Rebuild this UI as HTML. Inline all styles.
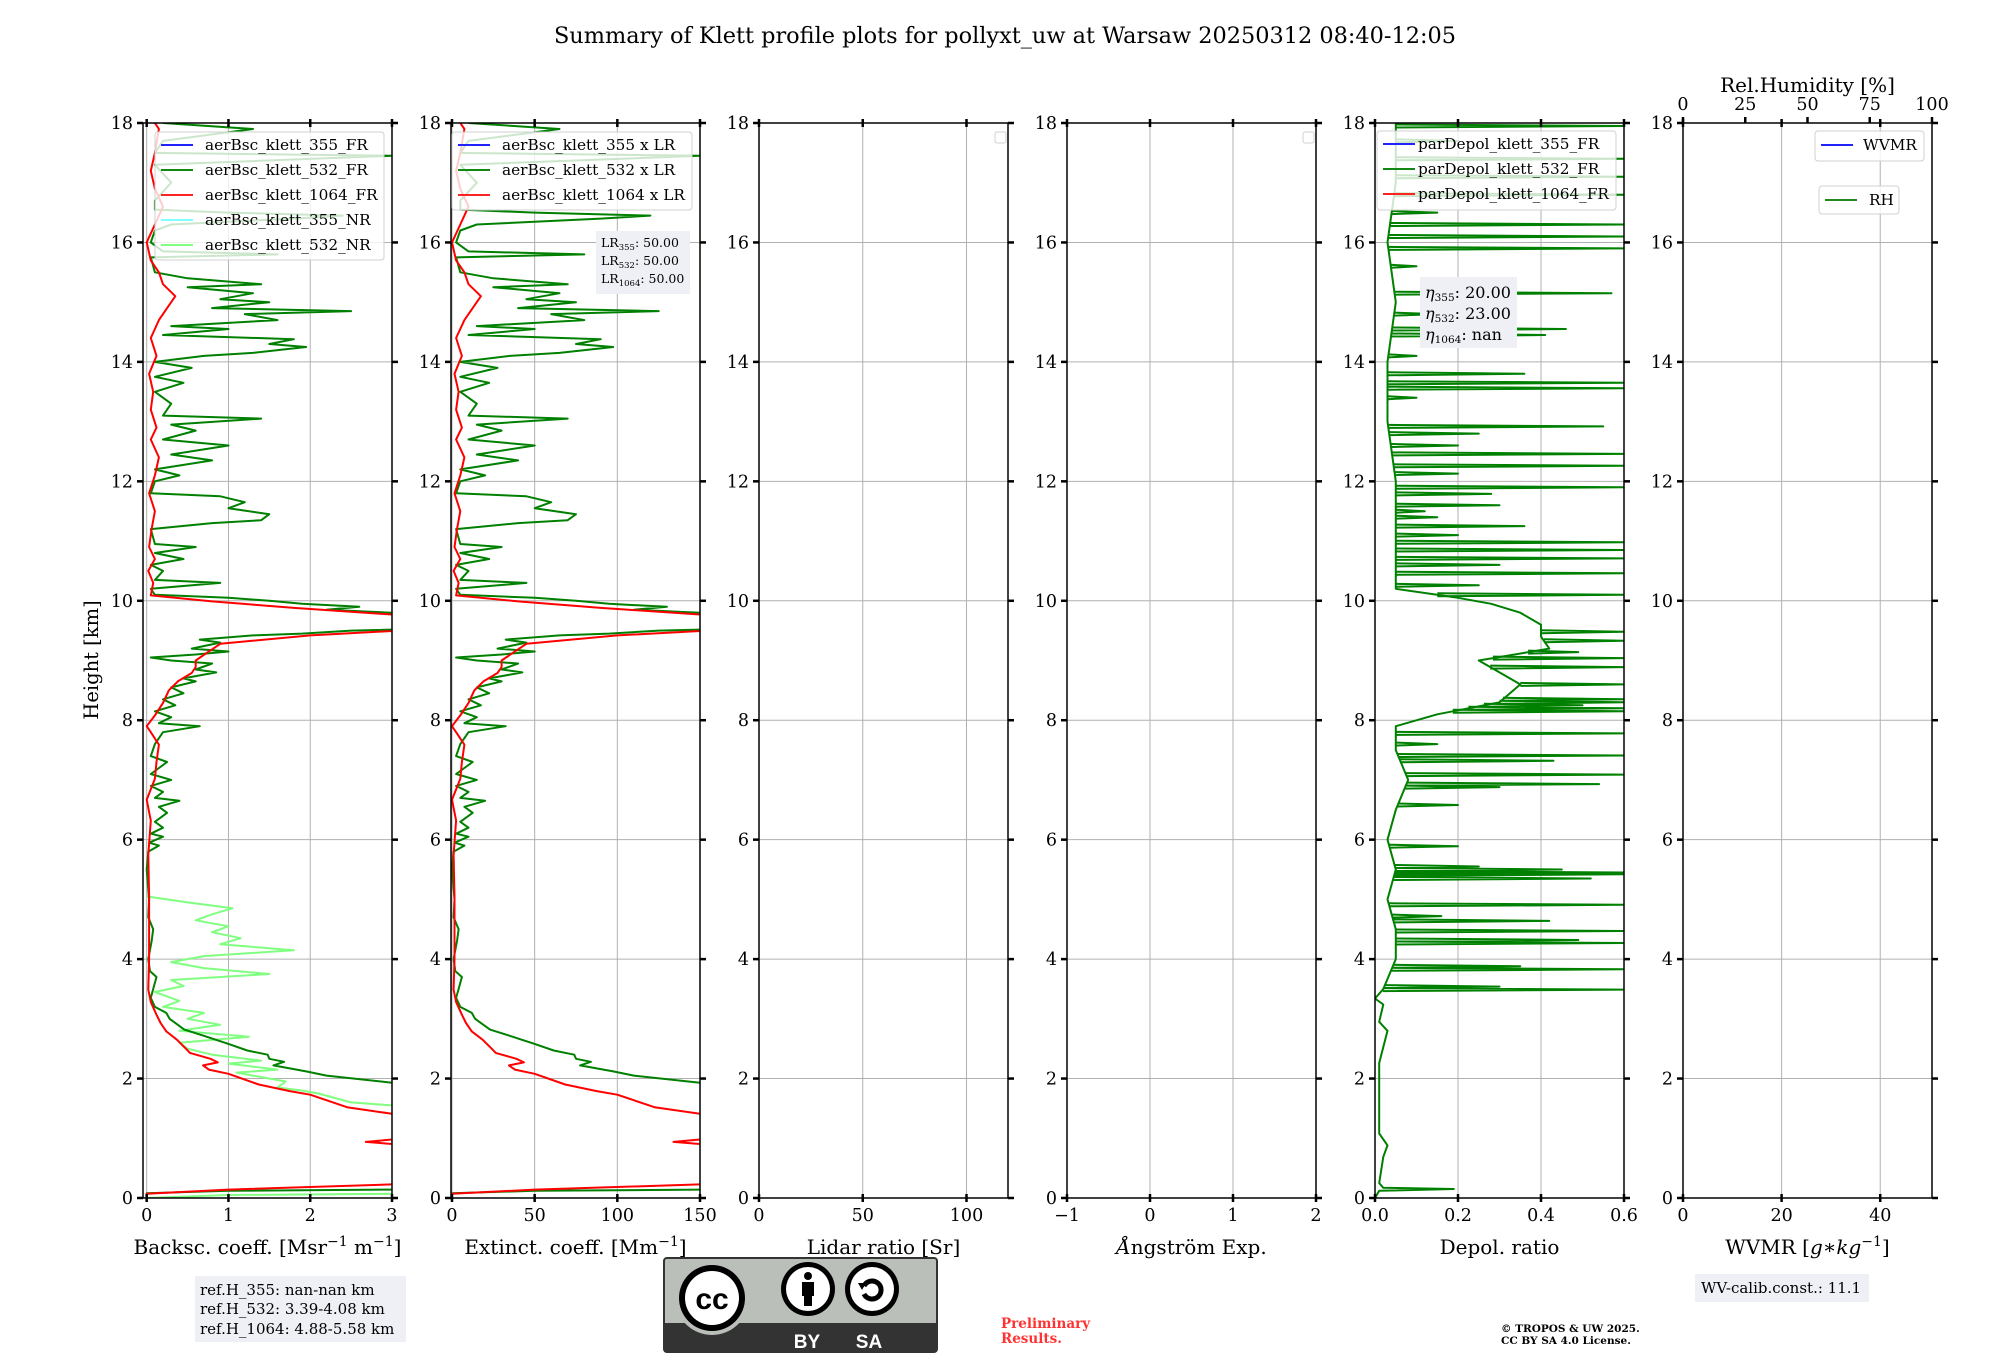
<!DOCTYPE html>
<html><head><meta charset="utf-8"><title>Klett profile summary</title>
<style>
html,body{margin:0;padding:0;background:#fff;}
svg{display:block;font-family:"DejaVu Serif","Liberation Serif",serif;}
</style></head>
<body>
<svg id="fig" xmlns="http://www.w3.org/2000/svg" width="2000" height="1360" viewBox="0 0 2000 1360">
<rect x="0" y="0" width="2000" height="1360" fill="#fff"/>
<text x="1005" y="43" font-size="22.4" text-anchor="middle">Summary of Klett profile plots for pollyxt_uw at Warsaw 20250312 08:40-12:05</text>
<text transform="translate(98,660) rotate(-90)" font-size="19.5" text-anchor="middle">Height [km]</text>
<g id="axes"></g>
<g id="overlays"></g>

<g>
<rect x="195" y="1276" width="211" height="66" fill="#eff0f5"/>
<text x="200" y="1295" font-size="15">ref.H_355: nan-nan km</text>
<text x="200" y="1314" font-size="15">ref.H_532: 3.39-4.08 km</text>
<text x="200" y="1334" font-size="15">ref.H_1064: 4.88-5.58 km</text>
</g>

<g>
<rect x="664" y="1258" width="273" height="94" rx="3" fill="#bbbfba" stroke="#333" stroke-width="2"/>
<rect x="665" y="1323" width="271" height="28" fill="#333"/>
<circle cx="712" cy="1298" r="37" fill="#bbbfba"/>
<circle cx="712" cy="1298" r="33" fill="#000"/>
<circle cx="712" cy="1298" r="27" fill="#fff"/>
<text x="712" y="1309" font-family="Liberation Sans, sans-serif" font-weight="bold" font-size="30" text-anchor="middle" fill="#000">cc</text>
<circle cx="808" cy="1289" r="27" fill="#000"/>
<circle cx="808" cy="1289" r="22" fill="#fff"/>
<circle cx="808" cy="1276" r="4" fill="#000"/>
<rect x="802" y="1282" width="12" height="14" fill="#000"/>
<rect x="804" y="1294" width="8" height="12" fill="#000"/>
<circle cx="872" cy="1289" r="27" fill="#000"/>
<circle cx="872" cy="1289" r="22" fill="#fff"/>
<path d="M864 1286 A9 9 0 1 1 864 1294" fill="none" stroke="#000" stroke-width="5"/>
<path d="M858 1283 L866 1283 L862 1290 Z" fill="#000"/>
<text x="807" y="1348" font-family="Liberation Sans, sans-serif" font-weight="bold" font-size="19" text-anchor="middle" fill="#fff">BY</text>
<text x="869" y="1348" font-family="Liberation Sans, sans-serif" font-weight="bold" font-size="19" text-anchor="middle" fill="#fff">SA</text>
</g>

<text x="1001" y="1328" font-size="13.5" font-weight="bold" fill="#ff3333">Preliminary</text>
<text x="1001" y="1343" font-size="13.5" font-weight="bold" fill="#ff3333">Results.</text>

<g>
<rect x="1695" y="1274" width="174" height="28" fill="#eff0f5"/>
<text x="1701" y="1293" font-size="15">WV-calib.const.: 11.1</text>
</g>
<text x="1501" y="1332" font-size="10.5" font-weight="bold">© TROPOS &amp; UW 2025.</text>
<text x="1501" y="1344" font-size="10.5" font-weight="bold">CC BY SA 4.0 License.</text>
</svg>

<script>
// ---------- data ----------
const bsc532Height = [0,0.08,0.12,0.15,1.9,1.93,2.05,2.12,2.22,2.28,2.33,2.4,2.47,2.58,2.72,2.82,3.0,3.1,3.2,3.35,3.5,3.7,3.8,4.0,4.3,4.5,4.7,5.0,5.5,5.8,5.9,5.95,6.05,6.1,6.2,6.3,6.45,6.55,6.65,6.7,6.8,6.9,7.0,7.1,7.3,7.4,7.6,7.8,7.9,7.95,8.05,8.15,8.25,8.35,8.45,8.55,8.65,8.7,8.8,8.85,8.95,9.0,9.05,9.1,9.15,9.2,9.3,9.35,9.42,9.45,9.5,9.55,9.75,9.8,9.85,9.9,9.95,10.0,10.05,10.1,10.2,10.3,10.35,10.5,10.6,10.7,10.8,10.9,10.95,11.2,11.3,11.35,11.45,11.55,11.65,11.75,11.8,12.0,12.1,12.2,12.35,12.45,12.6,12.7,12.85,12.95,13.05,13.1,13.3,13.5,13.65,13.75,13.9,14.0,14.1,14.15,14.25,14.3,14.38,14.45,14.55,14.6,14.7,14.8,14.85,14.9,15.0,15.05,15.15,15.25,15.3,15.4,15.5,15.75,15.8,15.85,16.0,16.2,16.3,16.4,16.45,16.5,16.55,16.7,17.0,17.3,17.45,17.5,17.7,17.9,18.0];
const bsc532Value = [0,0,1,4,4,3.0,2.2,1.95,1.55,1.68,1.5,1.48,1.23,1.0,0.69,0.46,0.28,0.24,0.1,0.05,0.08,0.12,0.04,0.02,0.06,0.08,0.02,0.03,0.0,0.02,0.15,0.03,0.2,0.05,0.2,0.1,0.25,0.15,0.4,0.1,0.2,0.05,0.3,0.05,0.25,0.05,0.1,0.2,0.65,0.15,0.3,0.1,0.35,0.2,0.45,0.3,0.6,0.45,0.85,0.6,0.8,0.3,0.05,0.6,1.0,0.55,0.9,0.65,1.3,1.9,2.5,4,4,3.0,2.2,2.6,1.9,1.5,1.0,0.1,0.05,0.9,0.1,0.2,0.05,0.45,0.1,0.6,0.1,0.05,0.8,1.4,1.5,1.0,1.2,0.9,0.05,0.1,0.4,0.1,0.8,0.3,1.0,0.2,0.6,0.3,1.4,0.2,0.3,0.1,0.45,0.1,0.55,0.1,0.7,1.3,1.95,1.5,1.8,0.2,1.0,0.3,1.6,1.2,2.5,0.8,1.5,0.9,1.3,0.5,1.4,0.5,0.1,0.05,1.6,0.2,0.05,0.1,0.3,1.8,2.4,1.0,0.1,0.1,0.3,0.1,3.0,0.1,0.2,1.3,0.2];
const bsc1064Height = [0,0.07,0.14,0.25,0.85,0.94,1.04,1.41,1.52,1.73,1.79,1.9,2.08,2.15,2.22,2.27,2.33,2.43,2.5,2.65,2.79,2.93,3.07,3.28,3.49,4.0,5.05,5.75,6.32,6.67,7.02,7.3,7.59,7.8,7.9,8.08,8.29,8.5,8.65,8.79,8.89,9.0,9.14,9.28,9.42,9.53,9.77,9.88,9.99,10.09,10.3,10.5,10.7,10.9,11.2,11.5,11.8,12.1,12.4,12.7,12.9,13.2,13.5,13.8,14.1,14.4,14.7,14.9,15.1,15.3,15.5,15.7,16.0,16.3,16.6,16.9,17.2,17.5,17.9,18.0];
const bsc1064Value = [0,0,1.0,3.5,3.5,2.68,3.5,3.0,2.45,2.0,1.75,1.37,1.0,0.76,0.69,0.87,0.78,0.53,0.48,0.37,0.24,0.17,0.12,0.05,0.02,0.03,0.03,0.02,0.05,0.0,0.1,0.12,0.15,0.05,0.0,0.1,0.2,0.27,0.38,0.55,0.6,0.6,0.75,0.9,2.0,3.5,3.0,1.8,0.8,0.05,0.08,0.02,0.1,0.03,0.06,0.1,0.03,0.1,0.15,0.05,0.12,0.05,0.08,0.03,0.12,0.05,0.15,0.25,0.35,0.2,0.15,0.05,0.0,0.1,0.2,0.1,0.05,0.1,0.15,0.1];
const bsc532NRHeight = [0,0.05,0.08,1.45,1.55,1.6,1.75,1.8,1.85,1.95,2.1,2.15,2.25,2.3,2.4,2.5,2.6,2.7,2.8,2.9,3.0,3.1,3.2,3.3,3.45,3.55,3.65,3.75,3.85,3.95,4.05,4.15,4.25,4.35,4.45,4.55,4.65,4.75,4.85,4.95,5.05];
const bsc532NRValue = [0,1.0,4,4,3.0,2.5,2.1,1.9,1.6,1.7,1.1,1.6,1.0,1.4,0.8,0.5,0.4,1.25,0.4,0.9,0.5,0.7,0.2,0.4,0.1,0.45,0.3,1.5,0.7,0.3,0.7,1.8,0.9,1.15,0.8,1.0,0.6,0.8,1.05,0.5,0];
const lidarRatio = [50, 50, 50];
const depolBaseHeight = [0,0.12,0.15,0.17,0.25,0.69,0.88,1.08,2.26,2.8,2.95,3.24,3.34,3.5,4.0,4.5,5.0,5.5,6.0,6.5,7.0,7.5,7.9,8.1,8.3,8.6,8.8,9.0,9.2,9.4,9.6,9.8,9.95,10.05,10.2,11,12,13,14,15,16,17,18];
const depolBaseValue = [0,0.01,0.19,0.02,0.01,0.02,0.03,0.01,0.01,0.03,0.01,0.02,0.0,0.02,0.05,0.05,0.03,0.05,0.03,0.05,0.08,0.05,0.05,0.15,0.3,0.35,0.3,0.25,0.42,0.4,0.4,0.35,0.28,0.2,0.05,0.05,0.05,0.03,0.03,0.05,0.03,0.05,0.05];
const depolSpikeHeight = [3.49,3.54,3.83,3.88,4.27,4.32,4.47,4.64,4.72,4.91,5.35,5.42,5.45,5.5,5.55,5.89,6.58,6.88,6.93,7.09,7.32,7.41,7.6,7.78,8.15,8.2,8.25,8.3,8.35,8.6,8.89,9.04,9.14,9.33,9.48,10.1,10.26,10.46,10.6,10.71,10.85,10.98,11.1,11.25,11.4,11.5,11.6,11.79,11.9,12.13,12.26,12.46,12.6,12.8,12.92,13.4,13.56,13.65,13.8,14.1,14.45,14.55,14.8,15.15,15.6,15.9,16.1,16.3,16.5,16.8,17.1,17.4,17.7,17.95];
const depolSpikeValue = [0.6,0.3,0.6,0.35,0.6,0.49,0.6,0.42,0.16,0.6,0.52,0.6,0.6,0.45,0.25,0.2,0.2,0.3,0.54,0.6,0.43,0.6,0.15,0.6,0.6,0.6,0.5,0.6,0.6,0.6,0.6,0.6,0.49,0.6,0.6,0.6,0.25,0.6,0.3,0.6,0.6,0.6,0.2,0.36,0.15,0.12,0.3,0.28,0.6,0.2,0.6,0.6,0.2,0.25,0.55,0.1,0.6,0.6,0.36,0.1,0.41,0.46,0.15,0.57,0.1,0.6,0.6,0.6,0.15,0.6,0.6,0.6,0.2,0.6];
const heightTicks = [0,2,4,6,8,10,12,14,16,18];
const bscTicks = [0,1,2,3];
const extTicks = [0,50,100,150];
const lrTicks = [0,50,100];
const aeTicks = [-1,0,1,2];
const aeTickLabels = ['\u22121','0','1','2'];
const depolTicks = [0,0.2,0.4,0.6];
const depolTickLabels = ['0.0','0.2','0.4','0.6'];
const wvmrTicks = [0,20,40];
const rhTicks = [0,25,50,75,100];

// ---------- layout ----------
const NS = 'http://www.w3.org/2000/svg';
const TOP = 123, BOT = 1198, W = 249, HMAX = 18;
const TICKFS = 17.5;
const axLeft = i => 143 + 308 * i;
const yOf = h => BOT - (h / HMAX) * (BOT - TOP);
const axesG = document.getElementById('axes');
const overG = document.getElementById('overlays');

function mk(tag, attrs, parent) {
  const e = document.createElementNS(NS, tag);
  for (const k in attrs) e.setAttribute(k, attrs[k]);
  parent.appendChild(e);
  return e;
}

const axesCfg = [
  {name:'backscatter', xmin:-0.045, xmax:3, ticks:bscTicks, labels:bscTicks.map(String)},
  {name:'extinction', xmin:-0.6, xmax:150, ticks:extTicks, labels:extTicks.map(String)},
  {name:'lidar-ratio', xmin:0, xmax:120, ticks:lrTicks, labels:lrTicks.map(String)},
  {name:'angstrom', xmin:-1, xmax:2, ticks:aeTicks, labels:aeTickLabels},
  {name:'depol', xmin:0, xmax:0.6, ticks:depolTicks, labels:depolTickLabels},
  {name:'wvmr', xmin:0, xmax:50.5, ticks:wvmrTicks, labels:wvmrTicks.map(String)}
];

const xFns = [];
axesCfg.forEach((cfg, i) => {
  const L = axLeft(i), R = L + W;
  const xf = v => L + (v - cfg.xmin) / (cfg.xmax - cfg.xmin) * W;
  xFns.push(xf);
  const g = mk('g', {}, axesG);
  
  
  const cp = mk('clipPath', {id: 'clip' + i}, g);
  mk('rect', {x: L, y: TOP, width: W, height: BOT - TOP}, cp);
  const grid = mk('g', {stroke: '#b0b0b0', 'stroke-width': 1}, g);
  
  
  heightTicks.forEach(h => mk('line', {x1: L, x2: R, y1: yOf(h), y2: yOf(h)}, grid));
  cfg.ticks.forEach(t => mk('line', {x1: xf(t), x2: xf(t), y1: TOP, y2: BOT}, grid));
  const dg = mk('g', {'clip-path': 'url(#clip' + i + ')', fill: 'none', 'stroke-width': 2, 'stroke-linejoin': 'round'}, g);
  dg.id = 'data' + i;
  const sp = mk('rect', {x: L, y: TOP, width: W, height: BOT - TOP, fill: 'none', stroke: '#000', 'stroke-width': 1.5}, g);
  
  
  heightTicks.forEach(h => {
    const y = yOf(h);
    mk('line', {x1: L - 6, x2: L, y1: y, y2: y, stroke: '#000', 'stroke-width': 2.5}, g);
    mk('line', {x1: R, x2: R + 6, y1: y, y2: y, stroke: '#000', 'stroke-width': 2.5}, g);
    const t = mk('text', {x: L - 10, y: y + 6, 'font-size': TICKFS, 'text-anchor': 'end'}, g);
    
    
    t.textContent = String(h);
  });
  cfg.ticks.forEach((tv, k) => {
    const x = xf(tv);
    mk('line', {x1: x, x2: x, y1: BOT - 4, y2: BOT + 4, stroke: '#000', 'stroke-width': 2.5}, g);
    mk('line', {x1: x, x2: x, y1: TOP - 4, y2: TOP + 4, stroke: '#000', 'stroke-width': 2.5}, g);
    const t = mk('text', {x: x, y: BOT + 23, 'font-size': TICKFS, 'text-anchor': 'middle'}, g);
    
    
    t.textContent = cfg.labels[k];
  });
});

function drawLine(i, hs, vs, color, name, width) {
  const xf = xFns[i];
  let d = '';
  hs.forEach((h, k) => { d += (k ? 'L' : 'M') + xf(vs[k]).toFixed(1) + ' ' + yOf(h).toFixed(1); });
  const p = mk('path', {d: d, stroke: color, 'stroke-width': width || 2}, document.getElementById('data' + i));
  
  
}
function baseAt(hs, vs, h) {
  for (let k = 1; k < hs.length; k++) {
    if (h <= hs[k]) { const f = (h - hs[k-1]) / (hs[k] - hs[k-1]); return vs[k-1] + f * (vs[k] - vs[k-1]); }
  }
  return vs[vs.length - 1];
}
function drawSpikes(i, hs, vs, bh, bv, color, name) {
  const xf = xFns[i];
  let d = '';
  hs.forEach((h, k) => {
    const b = baseAt(bh, bv, h);
    const y = yOf(h);
    d += 'M' + xf(b).toFixed(1) + ' ' + (y + 1.5).toFixed(1) + 'L' + xf(vs[k]).toFixed(1) + ' ' + y.toFixed(1) + 'L' + xf(b).toFixed(1) + ' ' + (y - 1.5).toFixed(1);
  });
  const p = mk('path', {d: d, stroke: color, 'stroke-width': 2}, document.getElementById('data' + i));
  
  
}

drawLine(0, bsc532NRHeight, bsc532NRValue, '#80ff80', 'bsc-532-nr-line');
drawLine(0, bsc532Height, bsc532Value, '#008000', 'bsc-532-fr-line');
drawLine(0, bsc1064Height, bsc1064Value, '#ff0000', 'bsc-1064-fr-line');
drawLine(1, bsc532Height, bsc532Value.map(v => v * lidarRatio[1]), '#008000', 'ext-532-line');
drawLine(1, bsc1064Height, bsc1064Value.map(v => v * lidarRatio[2]), '#ff0000', 'ext-1064-line');
drawLine(4, depolBaseHeight, depolBaseValue, '#008000', 'depol-532-line', 2);
drawSpikes(4, depolSpikeHeight, depolSpikeValue, depolBaseHeight, depolBaseValue, '#008000', 'depol-532-spikes');

function xTitle(i, html, name) {
  const L = axLeft(i);
  const t = mk('text', {x: L + W / 2, y: BOT + 56, 'font-size': 20, 'text-anchor': 'middle'}, overG);
  
  
  t.innerHTML = html;
}
xTitle(0, 'Backsc. coeff. [Msr<tspan dy="-8" font-size="14">\u22121</tspan><tspan dy="8"> m</tspan><tspan dy="-8" font-size="14">\u22121</tspan><tspan dy="8">]</tspan>', 'backscatter-x-title');
xTitle(1, 'Extinct. coeff. [Mm<tspan dy="-8" font-size="14">\u22121</tspan><tspan dy="8">]</tspan>', 'extinction-x-title');
xTitle(2, 'Lidar ratio [Sr]', 'lidar-ratio-x-title');
xTitle(3, '<tspan font-style="italic">\u00C5</tspan>ngstr\u00F6m Exp.', 'angstrom-x-title');
xTitle(4, 'Depol. ratio', 'depol-x-title');
xTitle(5, 'WVMR [<tspan font-style="italic">g</tspan>\u2217<tspan font-style="italic">kg</tspan><tspan dy="-8" font-size="14">\u22121</tspan><tspan dy="8">]</tspan>', 'wvmr-x-title');

(function () {
  const L = axLeft(5);
  rhTicks.forEach(v => {
    const x = L + v / 100 * W;
    const t = mk('text', {x: x, y: 110, 'font-size': TICKFS, 'text-anchor': 'middle'}, overG);
    
    
    t.textContent = String(v);
    mk('line', {x1: x, x2: x, y1: TOP - 6, y2: TOP, stroke: '#000', 'stroke-width': 2.5}, overG);
  });
  const t = mk('text', {x: L + W / 2, y: 92, 'font-size': 20, 'text-anchor': 'middle'}, overG);
  
  
  t.textContent = 'Rel.Humidity [%]';
})();

function legend(x, y, w, h, entries, name, textX, rowY0, fs) {
  const g = mk('g', {}, overG);
  
  
  mk('rect', {x: x, y: y, width: w, height: h, rx: 3, fill: 'rgba(255,255,255,0.8)', stroke: '#d0d0d0', 'stroke-width': 1}, g);
  entries.forEach((e, k) => {
    const yy = rowY0 + k * 25;
    const ln = mk('line', {x1: x + 6, x2: x + 38, y1: yy, y2: yy, stroke: e[1], 'stroke-width': 2}, g);
    
    
    const t = mk('text', {x: textX, y: yy + 5, 'font-size': fs || 15.3}, g);
    
    
    t.textContent = e[0];
  });
}
legend(155, 132, 229, 128, [['aerBsc_klett_355_FR', '#2222ff'], ['aerBsc_klett_532_FR', '#118811'], ['aerBsc_klett_1064_FR', '#ff2222'], ['aerBsc_klett_355_NR', '#80ffff'], ['aerBsc_klett_532_NR', '#80ff80']], 'backscatter-legend', 205, 145);
legend(452, 132, 240, 78, [['aerBsc_klett_355 x LR', '#2222ff'], ['aerBsc_klett_532 x LR', '#118811'], ['aerBsc_klett_1064 x LR', '#ff2222']], 'extinction-legend', 502, 145);
legend(1377, 131, 239, 79, [['parDepol_klett_355_FR', '#2222ff'], ['parDepol_klett_532_FR', '#118811'], ['parDepol_klett_1064_FR', '#ff2222']], 'depol-legend', 1418, 144);
legend(1815, 131, 109, 30, [['WVMR', '#2222ff']], 'wvmr-legend', 1863, 145);
legend(1819, 186, 80, 28, [['RH', '#228822']], 'rh-legend', 1869, 200);

[[995, 132], [1303, 132]].forEach(p => {
  const r = mk('rect', {x: p[0], y: p[1], width: 11, height: 11, rx: 2, fill: '#fff', stroke: '#d0d0d0'}, overG);
  
  
});

(function () {
  const g = mk('g', {}, overG);
  
  
  mk('rect', {x: 596, y: 231, width: 94, height: 63, fill: '#eff0f5'}, g);
  ['355', '532', '1064'].forEach((wl, k) => {
    const t = mk('text', {x: 601, y: 247 + k * 18, 'font-size': 12.5}, g);
    t.innerHTML = 'LR<tspan dy="3" font-size="8.5">' + wl + '</tspan><tspan dy="-3">: ' + lidarRatio[k].toFixed(2) + '</tspan>';
  });
})();
(function () {
  const g = mk('g', {}, overG);
  
  
  mk('rect', {x: 1420, y: 277, width: 97, height: 71, fill: '#eff0f5'}, g);
  [['355', '20.00'], ['532', '23.00'], ['1064', 'nan']].forEach((e, k) => {
    const t = mk('text', {x: 1425, y: 298 + k * 21, 'font-size': 16}, g);
    t.innerHTML = '<tspan font-style="italic">\u03B7</tspan><tspan dy="3" font-size="10.5">' + e[0] + '</tspan><tspan dy="-3">: ' + e[1] + '</tspan>';
  });
})();
</script>
</body></html>
